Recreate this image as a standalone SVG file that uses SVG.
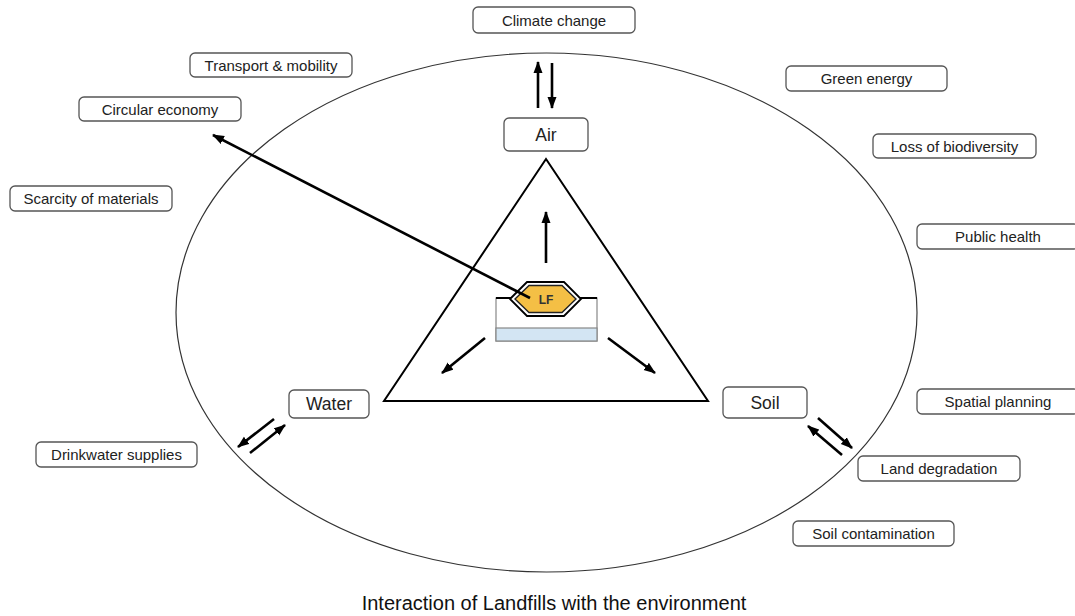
<svg xmlns="http://www.w3.org/2000/svg" width="1075" height="616" viewBox="0 0 1075 616">
<style>
.box{fill:#fff;stroke:#555;stroke-width:1.3}
.lbl{font-family:"Liberation Sans",Arial,sans-serif;font-size:15px;fill:#222;text-anchor:middle;dominant-baseline:central}
.big{font-size:17.5px}
.conn{stroke:#000;stroke-width:2.6;fill:none;marker-end:url(#ah)}
</style>
<defs>
<marker id="ah" markerUnits="userSpaceOnUse" markerWidth="12" markerHeight="10" refX="11" refY="5" orient="auto">
<path d="M0,0.5 L12,5 L0,9.5 Z" fill="#000"/>
</marker>
</defs>
<rect width="1075" height="616" fill="#fff"/>
<g id="background">
<ellipse cx="546.5" cy="312.5" rx="370.5" ry="259.5" fill="none" stroke="#333" stroke-width="1.2"/>
<polygon points="546,159 384,401 708,401" fill="none" stroke="#000" stroke-width="2"/>
</g>
<g id="landfill">
<rect x="496" y="298" width="101" height="43" fill="#fff" stroke="#888" stroke-width="1.2"/>
<rect x="496" y="328" width="101" height="13" fill="#D3E5F3" stroke="#888" stroke-width="1.2"/>
<line x1="496" y1="298" x2="511" y2="298" stroke="#000" stroke-width="2"/>
<line x1="580" y1="298" x2="597" y2="298" stroke="#000" stroke-width="2"/>
<polygon points="510,299 527,282 564,282 581,299 564,316 527,316" fill="#fff" stroke="#000" stroke-width="1.8"/>
<polygon points="515,299 529,285.5 562,285.5 576,299 562,312.5 529,312.5" fill="#F4BF45" stroke="#222" stroke-width="1.4"/>
<text x="546" y="299.5" class="lbl" style="font-size:12px;font-weight:bold;fill:#333">LF</text>
</g>
<g id="n-climate"><rect class="box" x="473" y="7" width="162" height="26" rx="5"/><text class="lbl" x="554" y="20">Climate change</text></g>
<g id="n-air"><rect class="box" x="504" y="118" width="84" height="33" rx="5"/><text class="lbl big" x="546" y="134.5">Air</text></g>
<g id="n-transport"><rect class="box" x="190" y="53" width="162" height="24" rx="5"/><text class="lbl" x="271" y="65">Transport &amp; mobility</text></g>
<g id="n-circular"><rect class="box" x="79" y="97" width="162" height="24" rx="5"/><text class="lbl" x="160" y="109">Circular economy</text></g>
<g id="n-scarcity"><rect class="box" x="10" y="186" width="162" height="25" rx="5"/><text class="lbl" x="91" y="198.5">Scarcity of materials</text></g>
<g id="n-green"><rect class="box" x="786" y="66" width="161" height="25" rx="5"/><text class="lbl" x="866.5" y="78.5">Green energy</text></g>
<g id="n-biodiv"><rect class="box" x="873" y="134" width="163" height="24" rx="5"/><text class="lbl" x="954.5" y="146">Loss of biodiversity</text></g>
<g id="n-health"><rect class="box" x="917" y="224" width="162" height="25" rx="5"/><text class="lbl" x="998" y="236.5">Public health</text></g>
<g id="n-spatial"><rect class="box" x="917" y="389" width="162" height="25" rx="5"/><text class="lbl" x="998" y="401.5">Spatial planning</text></g>
<g id="n-landdeg"><rect class="box" x="858" y="456" width="162" height="25" rx="5"/><text class="lbl" x="939" y="468.5">Land degradation</text></g>
<g id="n-soilcont"><rect class="box" x="793" y="521" width="161" height="25" rx="5"/><text class="lbl" x="873.5" y="533.5">Soil contamination</text></g>
<g id="n-drink"><rect class="box" x="36" y="442" width="161" height="25" rx="5"/><text class="lbl" x="116.5" y="454.5">Drinkwater supplies</text></g>
<g id="n-water"><rect class="box" x="289" y="390" width="80" height="28" rx="5"/><text class="lbl big" x="329" y="404">Water</text></g>
<g id="n-soil"><rect class="box" x="723" y="387" width="84" height="31" rx="5"/><text class="lbl big" x="765" y="402.5">Soil</text></g>
<g id="connectors">
<line class="conn" x1="538" y1="108" x2="538" y2="62"/>
<line class="conn" x1="552" y1="63" x2="552" y2="108"/>
<line class="conn" x1="546" y1="263" x2="546" y2="212"/>
<line class="conn" x1="485" y1="338" x2="442" y2="373"/>
<line class="conn" x1="608" y1="338" x2="655" y2="373"/>
<line class="conn" x1="530" y1="298" x2="213" y2="135"/>
<line class="conn" x1="274" y1="419" x2="238" y2="447"/>
<line class="conn" x1="250" y1="453" x2="285" y2="425"/>
<line class="conn" x1="842" y1="455" x2="808" y2="426"/>
<line class="conn" x1="818" y1="418" x2="852" y2="448"/>
</g>
<text class="lbl" x="554" y="603" style="font-size:20px;fill:#111">Interaction of Landfills with the environment</text>
</svg>
